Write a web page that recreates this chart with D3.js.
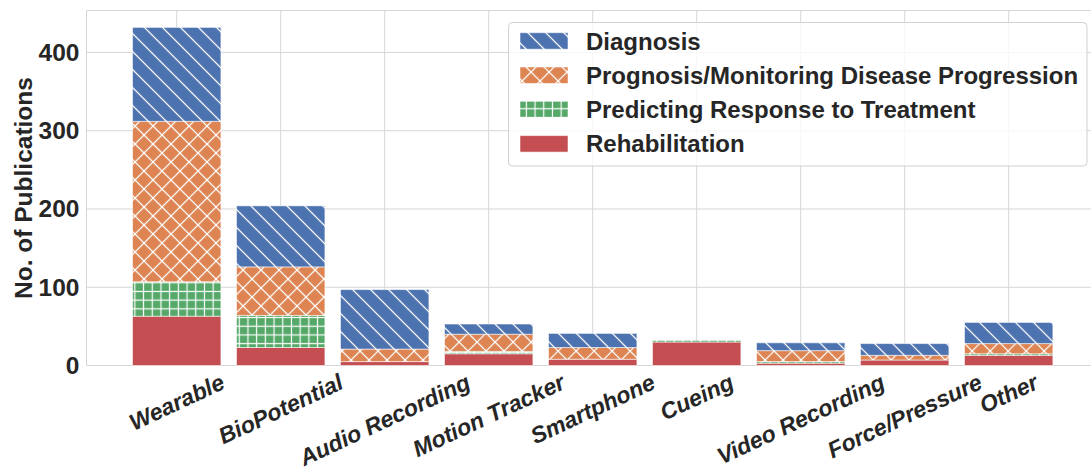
<!DOCTYPE html>
<html>
<head>
<meta charset="utf-8">
<script src="https://cdn.jsdelivr.net/npm/d3@7"></script>
<style>
  body { margin: 0; background: #fff; }
  svg { display: block; font-family: "Liberation Sans", Arial, Helvetica, sans-serif; }
</style>
</head>
<body>
<svg width="1091" height="471"></svg>
<script>
// data
var categories = ["Wearable", "BioPotential", "Audio Recording", "Motion Tracker",
  "Smartphone", "Cueing", "Video Recording", "Force/Pressure", "Other"];
var rehabilitation = [63, 23, 5, 15, 8, 30, 3, 7, 13];
var predicting = [44, 41, 0, 3, 0, 2, 2, 0, 2];
var prognosis = [205, 62, 16, 22, 15, 0, 14, 6, 13];
var diagnosis = [120, 78, 76, 13, 18, 0, 10, 15, 27];
var yTicks = [0, 100, 200, 300, 400];
var seriesNames = ["Diagnosis", "Prognosis/Monitoring Disease Progression",
  "Predicting Response to Treatment", "Rehabilitation"];

var svg = d3.select("svg"),
  width = +svg.attr("width"),
  height = +svg.attr("height");

var plotLeft = 86.5, plotRight = 1098.9, plotTop = 10.5, plotBottom = 365.5;
var textColor = "#262626", gridColor = "#d6d6d6";

var keys = ["rehab", "pred", "prog", "diag"];
var colors = { diag: "#4C72B0", prog: "#DD8452", pred: "#55A868", rehab: "#C44E52" };

var table = categories.map(function (c, i) {
  return { cat: c, rehab: rehabilitation[i], pred: predicting[i], prog: prognosis[i], diag: diagnosis[i] };
});
var stacked = d3.stack().keys(keys)(table);

var x = d3.scaleBand().domain(categories).range([plotLeft, plotRight])
  .paddingInner(0.15).paddingOuter(0.4425);
var y = d3.scaleLinear().domain([0, d3.max(table, d => d.rehab + d.pred + d.prog + d.diag) * 1.05])
  .range([plotBottom, plotTop]);

// hatch patterns
var defs = svg.append("defs");
function hatch(id, color, size, rot, lines) {
  var p = defs.append("pattern").attr("id", id)
    .attr("patternUnits", "userSpaceOnUse")
    .attr("width", size).attr("height", size)
    .attr("patternTransform", "rotate(" + rot + ")");
  p.append("rect").attr("width", size).attr("height", size).attr("fill", color);
  if (lines.indexOf("v") >= 0)
    p.append("line").attr("x1", size / 2).attr("x2", size / 2).attr("y1", 0).attr("y2", size)
      .attr("stroke", "#fff").attr("stroke-width", 1.2);
  if (lines.indexOf("h") >= 0)
    p.append("line").attr("y1", size / 2).attr("y2", size / 2).attr("x1", 0).attr("x2", size)
      .attr("stroke", "#fff").attr("stroke-width", 1.2);
}
hatch("h-diag", colors.diag, 12.73, -45, "v");
hatch("h-prog", colors.prog, 12.73, 45, "vh");
hatch("h-pred", colors.pred, 8.7, 0, "vh");
var fills = { diag: "url(#h-diag)", prog: "url(#h-prog)", pred: "url(#h-pred)", rehab: colors.rehab };

// grid
svg.append("g").selectAll("line").data(yTicks).enter().append("line")
  .attr("x1", plotLeft).attr("x2", width)
  .attr("y1", d => y(d)).attr("y2", d => y(d))
  .attr("stroke", gridColor).attr("stroke-width", 1);
svg.append("g").selectAll("line").data(categories).enter().append("line")
  .attr("x1", d => x(d) + x.bandwidth() / 2).attr("x2", d => x(d) + x.bandwidth() / 2)
  .attr("y1", plotTop).attr("y2", plotBottom)
  .attr("stroke", gridColor).attr("stroke-width", 1);
// spines
svg.append("path")
  .attr("d", "M" + width + "," + plotTop + "H" + plotLeft + "V" + plotBottom + "H" + width)
  .attr("fill", "none").attr("stroke", gridColor).attr("stroke-width", 1);

// bars
svg.append("g").selectAll("g").data(stacked).enter().append("g")
  .attr("fill", d => fills[d.key])
  .selectAll("rect").data(d => d).enter().append("rect")
  .attr("x", d => x(d.data.cat))
  .attr("width", x.bandwidth())
  .attr("y", d => y(d[1]))
  .attr("height", d => y(d[0]) - y(d[1]))
  .attr("stroke", "#fff").attr("stroke-opacity", 0.55).attr("stroke-width", 1);

// y axis
var yAxis = d3.axisLeft(y).tickValues(yTicks).tickSize(0).tickPadding(7);
var gy = svg.append("g").attr("transform", "translate(" + plotLeft + ",0)").call(yAxis);
gy.select(".domain").remove();
gy.selectAll("text").attr("font-size", 24.5).attr("font-weight", "bold")
  .attr("fill", textColor).attr("font-family", null);

svg.append("text")
  .attr("transform", "translate(23," + (plotTop + plotBottom) / 2 + ") rotate(-90)")
  .attr("text-anchor", "middle").attr("dominant-baseline", "central")
  .attr("font-size", 24.5).attr("font-weight", "bold").attr("fill", textColor)
  .text("No. of Publications");

// x tick labels, rotated 25 degrees, box centred under the tick
var ang = 25 * Math.PI / 180;
svg.append("g").selectAll("text").data(categories).enter().append("text")
  .attr("text-anchor", "middle").attr("dominant-baseline", "central")
  .attr("font-size", 23).attr("font-weight", "bold").attr("font-style", "italic")
  .attr("fill", textColor)
  .text(d => d)
  .each(function (d) {
    var w = this.getComputedTextLength(), h = 18;
    var bh = w * Math.sin(ang) + h * Math.cos(ang);
    var cx = x(d) + x.bandwidth() / 2, cy = plotBottom + 7 + bh / 2;
    d3.select(this).attr("transform", "translate(" + cx + "," + cy + ") rotate(-25)");
  });

// legend
var lg = svg.append("g");
lg.append("rect").attr("x", 508.5).attr("y", 22.5).attr("width", 578.5).attr("height", 143.5)
  .attr("rx", 4).attr("fill", "#fff").attr("fill-opacity", 0.8)
  .attr("stroke", "#d0d0d0").attr("stroke-width", 1);
var legendKeys = ["diag", "prog", "pred", "rehab"];
var rows = lg.selectAll("g.row").data(legendKeys).enter().append("g").attr("class", "row");
rows.append("rect")
  .attr("x", 520).attr("width", 48)
  .attr("y", (d, i) => 32.7 + i * 34.3).attr("height", 16.5)
  .attr("fill", d => fills[d])
  .attr("stroke", "#fff").attr("stroke-opacity", 0.55);
rows.append("text")
  .attr("x", 586).attr("y", (d, i) => 41 + i * 34.3)
  .attr("dominant-baseline", "central")
  .attr("font-size", 24).attr("font-weight", "bold").attr("fill", textColor)
  .text((d, i) => seriesNames[i]);
</script>
</body>
</html>
